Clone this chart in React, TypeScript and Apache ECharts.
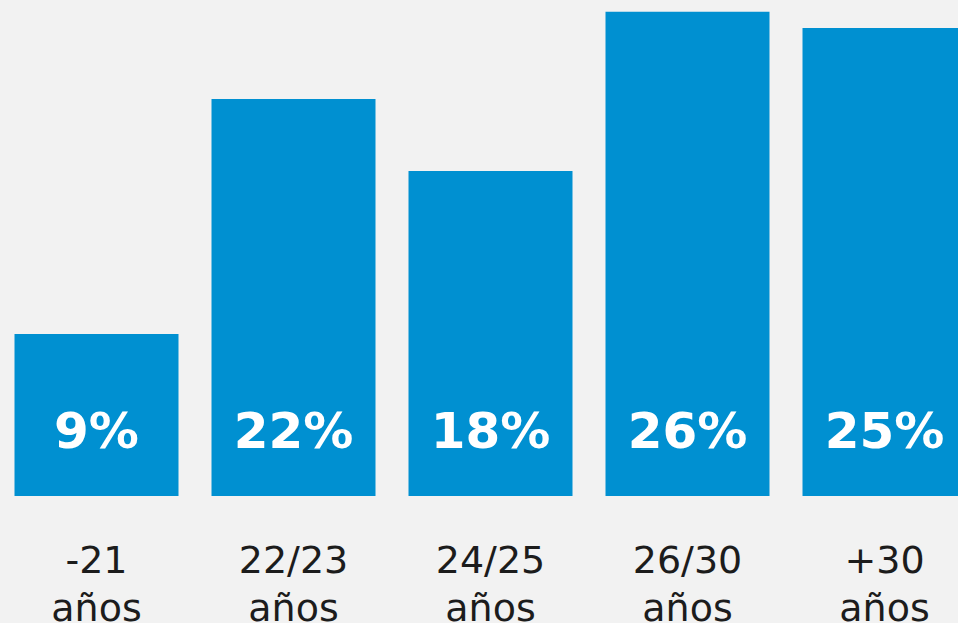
import React, { useEffect, useRef } from "react";
import * as echarts from "echarts";

const categories = ["-21\naños", "22/23\naños", "24/25\naños", "26/30\naños", "+30\naños"];
const barHeights = [9, 22.05, 18.05, 26.9, 26.0];
const valueLabels = ["9%", "22%", "18%", "26%", "25%"];

export default function App() {
  const ref = useRef<HTMLDivElement>(null);
  useEffect(() => {
    document.body.style.margin = "0";
    const chart = echarts.init(ref.current!, null, { renderer: "svg" });
    chart.setOption({
      animation: false,
      backgroundColor: "#f2f2f2",
      grid: { left: -2, top: 0, width: 985, height: 496, containLabel: false, outerBoundsMode: "none" },
      xAxis: {
        type: "category",
        data: categories,
        axisLine: { show: false },
        axisTick: { show: false },
        axisLabel: {
          interval: 0,
          margin: 40,
          fontFamily: "DejaVu Sans",
          fontSize: 38,
          lineHeight: 48,
          color: "#1c1c1c",
          verticalAlign: "top",
        },
      },
      yAxis: {
        type: "value",
        min: 0,
        max: 496 / 18,
        show: false,
        splitLine: { show: false },
      },
      series: [
        {
          type: "bar",
          data: barHeights,
          barWidth: 164,
          itemStyle: { color: "#0090d1" },
          label: {
            show: true,
            position: "insideBottom",
            distance: 40,
            formatter: (p: any) => valueLabels[p.dataIndex],
            color: "#ffffff",
            fontFamily: "DejaVu Sans",
            fontWeight: "bold",
            fontSize: 50,
          },
        },
      ],
    });
    return () => chart.dispose();
  }, []);
  return <div ref={ref} style={{ position: "fixed", left: 0, top: 0, width: 958, height: 623 }} />;
}
